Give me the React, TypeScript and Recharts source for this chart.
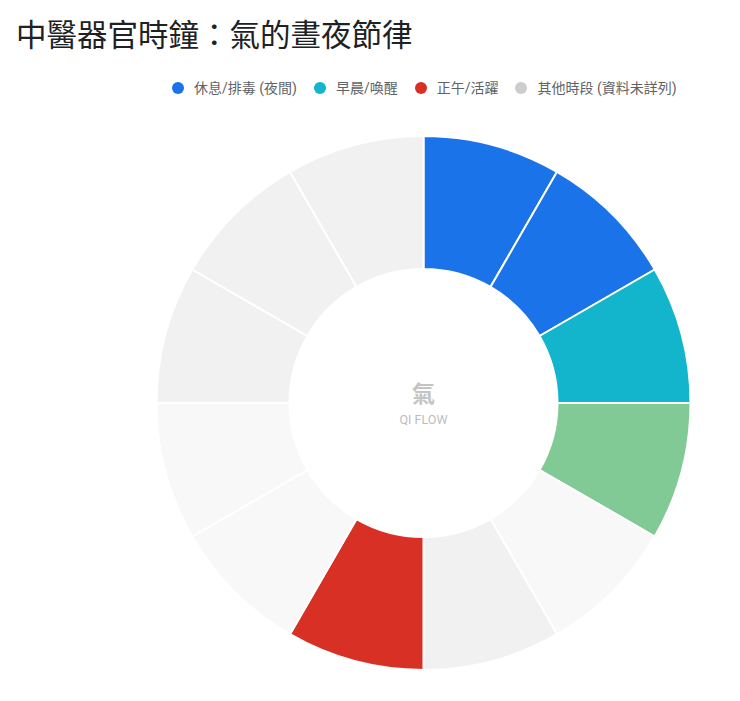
import { Cell, Legend, Pie, PieChart } from 'recharts';

// 子午流注: 12 meridians, two hours each, clockwise from 23:00 at 12 o'clock
const organs = ['膽經', '肝經', '肺經', '大腸經', '胃經', '脾經', '心經', '小腸經', '膀胱經', '腎經', '心包經', '三焦經'];
const hours = ['23-1', '1-3', '3-5', '5-7', '7-9', '9-11', '11-13', '13-15', '15-17', '17-19', '19-21', '21-23'];
const durations = [2, 2, 2, 2, 2, 2, 2, 2, 2, 2, 2, 2];
const sliceColors = [
  '#1a73e8',
  '#1a73e8',
  '#12b5cb',
  '#81c995',
  '#f8f8f8',
  '#f1f1f1',
  '#d93025',
  '#f8f8f8',
  '#f8f8f8',
  '#f1f1f1',
  '#f1f1f1',
  '#f1f1f1',
];

const legendLabels = ['休息/排毒 (夜間)', '早晨/喚醒', '正午/活躍', '其他時段 (資料未詳列)'];
const legendColors = ['#1a73e8', '#12b5cb', '#d93025', '#cccccc'];

const FONT = "Roboto, 'Noto Sans CJK TC', sans-serif";

const data = organs.map((organ, i) => ({
  name: organ,
  hours: hours[i],
  value: durations[i],
}));

function LegendRow() {
  return (
    <div style={{ display: 'flex', alignItems: 'center', gap: 17, fontFamily: FONT }}>
      {legendLabels.map((label, i) => (
        <span key={label} style={{ display: 'flex', alignItems: 'center', gap: 10 }}>
          <span
            style={{
              width: 12,
              height: 12,
              borderRadius: '50%',
              backgroundColor: legendColors[i],
              display: 'inline-block',
            }}
          />
          <span style={{ fontSize: 14, color: '#5f6368', lineHeight: '20px' }}>{label}</span>
        </span>
      ))}
    </div>
  );
}

export default function App() {
  return (
    <div style={{ position: 'relative', width: 724, height: 685, fontFamily: FONT }}>
      <div
        style={{
          position: 'absolute',
          left: 8,
          top: 10,
          fontSize: 30.5,
          lineHeight: '30px',
          color: '#202124',
          fontFamily: "'Noto Sans CJK TC', sans-serif",
          zIndex: 2,
        }}
      >
        中醫器官時鐘：氣的晝夜節律
      </div>
      <PieChart width={724} height={685} margin={{ top: 0, right: 0, bottom: 0, left: 0 }}>
        <Legend
          layout="horizontal"
          verticalAlign="middle"
          align="center"
          content={() => <LegendRow />}
          wrapperStyle={{ left: 164, top: 70, width: 540 }}
        />
        <Pie
          data={data}
          dataKey="value"
          nameKey="name"
          cx={415.5}
          cy={395}
          innerRadius={134}
          outerRadius={267}
          startAngle={90}
          endAngle={-270}
          stroke="#ffffff"
          strokeWidth={2}
          isAnimationActive={false}
        >
          {data.map((entry, i) => (
            <Cell key={entry.name} fill={sliceColors[i]} />
          ))}
        </Pie>
        <text
          x={415.5}
          y={386}
          textAnchor="middle"
          dominantBaseline="central"
          fontSize={23}
          fontWeight={700}
          fill="#c4c4c4"
          fontFamily={FONT}
        >
          氣
        </text>
        <text
          x={415.5}
          y={411}
          textAnchor="middle"
          dominantBaseline="central"
          fontSize={12.5}
          fill="#bdbdbd"
          fontFamily={FONT}
        >
          QI FLOW
        </text>
      </PieChart>
    </div>
  );
}
